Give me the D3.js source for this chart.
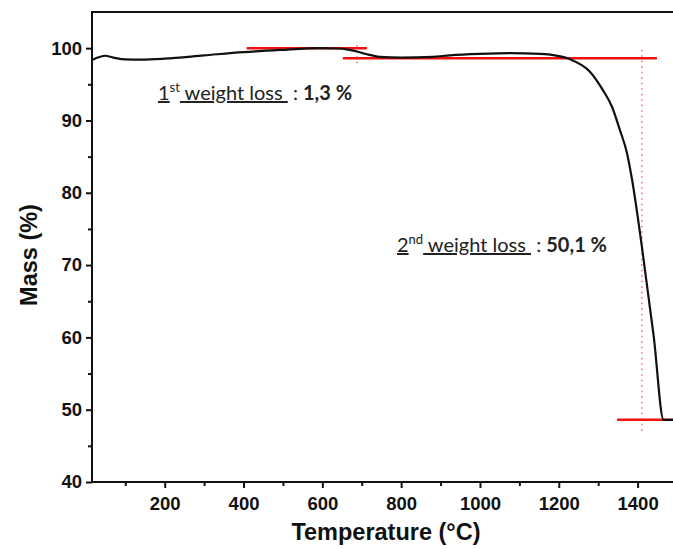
<!DOCTYPE html>
<html>
<head>
<meta charset="utf-8">
<script src="https://cdn.jsdelivr.net/npm/d3@7"></script>
<style>
  body { margin: 0; background: #fff; }
  svg { display: block; }
  .tick text { font-family: "Liberation Sans", Arial, sans-serif; font-weight: bold; font-size: 18.5px; fill: #111; }
  .title { font-family: "Liberation Sans", Arial, sans-serif; font-weight: bold; font-size: 23.5px; fill: #111; }
  .note { font-family: Lato, "Open Sans", sans-serif; font-size: 20px; fill: #222; }
</style>
</head>
<body>
<svg id="canvas"></svg>
<script>
/***********************************************************************/
// Data

var temperature = [18, 30, 48, 70, 100, 140, 200, 300, 400, 493, 594, 640, 665, 690, 713, 746, 800, 880, 924, 1000, 1076, 1152, 1200, 1229, 1279, 1312, 1335, 1355, 1373, 1386, 1411, 1441, 1466, 1500];
var mass = [98.4, 98.7, 98.95, 98.7, 98.45, 98.42, 98.55, 99.0, 99.45, 99.75, 100.0, 99.95, 99.8, 99.5, 99.15, 98.8, 98.7, 98.8, 99.0, 99.2, 99.3, 99.2, 98.9, 98.46, 96.75, 94.2, 91.9, 88.7, 85.5, 81.8, 72.5, 60.1, 48.6, 48.6];

// horizontal red guides: start temp, end temp, mass
var guide_start = [408, 652, 1348];
var guide_end = [713, 1449, 1500];
var guide_mass = [100.0, 98.6, 48.6];

// dotted vertical guides
var drop_temp = [688, 1411];
var drop_low = [97.9, 47.1];
var drop_high = [100.8, 100.0];

var x_ticks = [200, 400, 600, 800, 1000, 1200, 1400];
var x_minor = [100, 300, 500, 700, 900, 1100, 1300, 1500];
var y_ticks = [40, 50, 60, 70, 80, 90, 100];
var y_minor = [45, 55, 65, 75, 85, 95];

/***********************************************************************/
// Setup

var svg_width = 673, svg_height = 549;
var svg = d3.select('#canvas').attr('width', svg_width).attr('height', svg_height);

var xScale = d3.scaleLinear().domain([18, 1500]).range([93, 677]);
var yScale = d3.scaleLinear().domain([40, 105]).range([482, 12]);

/***********************************************************************/
// Axes

svg.append('g').attr('transform', 'translate(0,482)')
  .call(d3.axisBottom(xScale).tickValues(x_ticks).tickSize(6).tickPadding(9).tickFormat(d3.format('d')));
svg.append('g').attr('transform', 'translate(0,482)')
  .call(d3.axisBottom(xScale).tickValues(x_minor).tickSize(4).tickFormat(''));

svg.append('g').attr('transform', 'translate(92,0)')
  .call(d3.axisLeft(yScale).tickValues(y_ticks).tickSize(6).tickPadding(4));
svg.append('g').attr('transform', 'translate(92,0)')
  .call(d3.axisLeft(yScale).tickValues(y_minor).tickSize(4).tickFormat(''));

svg.selectAll('.domain').remove();
svg.selectAll('.tick line').attr('stroke', '#111').attr('stroke-width', 2);

// frame
svg.append('path')
  .attr('d', 'M' + xScale(1500) + ',' + yScale(105) + 'H92V482H' + xScale(1500))
  .attr('fill', 'none').attr('stroke', '#111').attr('stroke-width', 2);

svg.append('text').attr('class', 'title')
  .attr('x', 386).attr('y', 540).attr('text-anchor', 'middle')
  .text('Temperature (°C)');

svg.append('text').attr('class', 'title')
  .attr('transform', 'translate(37,255) rotate(-90)').attr('text-anchor', 'middle')
  .text('Mass (%)');

/***********************************************************************/
// Guides

guide_mass.forEach((m, i) => {
  svg.append('line')
    .attr('x1', xScale(guide_start[i])).attr('x2', xScale(guide_end[i]))
    .attr('y1', yScale(m)).attr('y2', yScale(m))
    .attr('stroke', '#f21010').attr('stroke-width', 2.5);
});

drop_temp.forEach((t, i) => {
  svg.append('line')
    .attr('x1', xScale(t)).attr('x2', xScale(t))
    .attr('y1', yScale(drop_low[i])).attr('y2', yScale(drop_high[i]))
    .attr('stroke', '#f24040').attr('stroke-width', 1.2).attr('stroke-dasharray', '1.5,4');
});

/***********************************************************************/
// Curve

var line = d3.line()
  .x((d, i) => xScale(temperature[i]))
  .y((d, i) => yScale(mass[i]))
  .curve(d3.curveMonotoneX);

svg.append('path').datum(mass)
  .attr('d', line)
  .attr('fill', 'none').attr('stroke', '#111').attr('stroke-width', 2.2);

/***********************************************************************/
// Notes

function note(x, y, num, sup, value){
  var t = svg.append('text').attr('class', 'note').attr('x', x).attr('y', y);
  t.append('tspan').style('text-decoration', 'underline').text(num);
  t.append('tspan').attr('dy', -8).style('font-size', '13px').text(sup);
  t.append('tspan').attr('dy', 8).style('text-decoration', 'underline').style('white-space', 'pre').text(' weight loss ');
  t.append('tspan').style('white-space', 'pre').text(' : ');
  t.append('tspan').style('font-weight', 'bold').text(value);
}

note(158, 100, '1', 'st', '1,3 %');
note(397, 252, '2', 'nd', '50,1 %');
</script>
</body>
</html>
